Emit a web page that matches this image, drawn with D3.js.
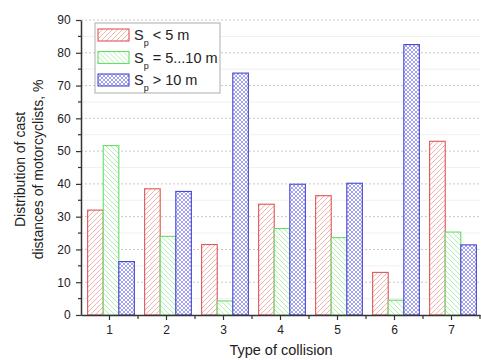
<!DOCTYPE html>
<html>
<head>
<meta charset="utf-8">
<script src="https://cdn.jsdelivr.net/npm/d3@7"></script>
<style>
  body { margin: 0; background: #fff; }
  text { font-family: "Liberation Sans", Arial, sans-serif; }
</style>
</head>
<body>
<div id="chart"></div>
<script>
// data
const categories = ['1', '2', '3', '4', '5', '6', '7'];
const seriesNames = ['lt5', 'mid', 'gt10'];
const lt5 = [32, 38.5, 21.5, 33.8, 36.4, 13, 53];
const mid = [51.7, 24, 4.3, 26.4, 23.6, 4.5, 25.3];
const gt10 = [16.3, 37.7, 73.8, 39.9, 40.2, 82.5, 21.4];
const yTicks = [0, 10, 20, 30, 40, 50, 60, 70, 80, 90];

const width = 481;
const height = 360;
const margin = { top: 20, right: 1, bottom: 45, left: 81 };

const svg = d3.select('#chart')
  .append('svg')
  .attr('width', width)
  .attr('height', height);

const defs = svg.append('defs');
// hatches
const hatch = (id, stroke, bg, dir) => {
  const p = defs.append('pattern')
    .attr('id', id)
    .attr('patternUnits', 'userSpaceOnUse')
    .attr('width', 5)
    .attr('height', 5);
  p.append('rect').attr('width', 5).attr('height', 5).attr('fill', bg);
  if (dir === 'fwd') {
    p.append('path').attr('d', 'M-1,1 L1,-1 M0,5 L5,0 M4,6 L6,4')
      .attr('stroke', stroke).attr('stroke-width', 0.8);
  } else {
    p.append('path').attr('d', 'M-1,4 L1,6 M0,0 L5,5 M4,-1 L6,1')
      .attr('stroke', stroke).attr('stroke-width', 0.8);
  }
};
hatch('pRed', '#f0a0a0', '#fff', 'fwd');
hatch('pGreen', '#a0eca0', '#fff', 'back');
// blue crosshatch, a bit denser
const pb = defs.append('pattern')
  .attr('id', 'pBlue')
  .attr('patternUnits', 'userSpaceOnUse')
  .attr('width', 4)
  .attr('height', 4);
pb.append('rect').attr('width', 4).attr('height', 4).attr('fill', '#fff');
pb.append('path').attr('d', 'M-1,1 L1,-1 M0,4 L4,0 M3,5 L5,3 M-1,3 L1,5 M0,0 L4,4 M3,-1 L5,1')
  .attr('stroke', '#8c8cec').attr('stroke-width', 0.8);

const fills = { lt5: 'url(#pRed)', mid: 'url(#pGreen)', gt10: 'url(#pBlue)' };
const strokes = { lt5: '#e05555', mid: '#66dd66', gt10: '#4848d0' };
const values = { lt5, mid, gt10 };

const x = d3.scaleBand()
  .domain(categories)
  .range([margin.left, width - margin.right])
  .paddingInner(0)
  .paddingOuter(0);

const xSub = d3.scaleBand()
  .domain(seriesNames)
  .range([x.bandwidth() * 0.09 + 1.5, x.bandwidth() * 0.91 + 1.5]);

const y = d3.scaleLinear()
  .domain([0, 90])
  .range([height - margin.bottom, margin.top]);

// grid
const minor = d3.range(5, 90, 10);
svg.append('g')
  .selectAll('line')
  .data(minor)
  .enter()
  .append('line')
  .attr('x1', margin.left)
  .attr('x2', width - margin.right)
  .attr('y1', (d) => y(d))
  .attr('y2', (d) => y(d))
  .attr('stroke', '#f0f0f0')
  .attr('stroke-width', 1);
svg.append('g')
  .selectAll('line')
  .data(yTicks.slice(1))
  .enter()
  .append('line')
  .attr('x1', margin.left)
  .attr('x2', width - margin.right)
  .attr('y1', (d) => y(d))
  .attr('y2', (d) => y(d))
  .attr('stroke', '#c8c8c8')
  .attr('stroke-dasharray', '2,2')
  .attr('stroke-width', 1);

// bars
const rows = [];
categories.forEach((c, i) => {
  seriesNames.forEach((s) => {
    rows.push({ c, s, v: values[s][i] });
  });
});
svg.append('g')
  .selectAll('rect')
  .data(rows)
  .enter()
  .append('rect')
  .attr('x', (d) => x(d.c) + xSub(d.s))
  .attr('y', (d) => y(d.v))
  .attr('width', xSub.bandwidth())
  .attr('height', (d) => y(0) - y(d.v))
  .attr('fill', (d) => fills[d.s])
  .attr('stroke', (d) => strokes[d.s])
  .attr('stroke-width', 1.1);

// axes
const xAxis = svg.append('g')
  .attr('transform', `translate(0,${y(0)})`)
  .call(d3.axisBottom(x).tickSize(5).tickSizeOuter(0));
xAxis.select('.domain').attr('stroke', '#333').attr('stroke-width', 1.5);
xAxis.selectAll('.tick line').attr('stroke', '#333').attr('stroke-width', 1.2);
xAxis.selectAll('.tick text').attr('font-size', 12).attr('fill', '#222').attr('dy', '0.9em');
// minor x ticks at group edges
xAxis.append('g')
  .selectAll('line')
  .data(categories)
  .enter()
  .append('line')
  .attr('x1', (d) => x(d) + x.bandwidth())
  .attr('x2', (d) => x(d) + x.bandwidth())
  .attr('y1', 0)
  .attr('y2', 4)
  .attr('stroke', '#333')
  .attr('stroke-width', 1.2);

const yAxis = svg.append('g')
  .attr('transform', `translate(${margin.left},0)`)
  .call(d3.axisLeft(y).tickValues(yTicks).tickSize(5).tickSizeOuter(0));
yAxis.select('.domain').attr('stroke', '#333').attr('stroke-width', 1.5);
yAxis.selectAll('.tick line').attr('stroke', '#333').attr('stroke-width', 1.2);
yAxis.selectAll('.tick text').attr('font-size', 12).attr('fill', '#222').attr('dx', '-0.2em');
yAxis.append('g')
  .selectAll('line')
  .data(minor)
  .enter()
  .append('line')
  .attr('x1', 0)
  .attr('x2', -3)
  .attr('y1', (d) => y(d))
  .attr('y2', (d) => y(d))
  .attr('stroke', '#333')
  .attr('stroke-width', 1.2);

// axis titles
svg.append('text')
  .attr('x', (margin.left + width) / 2)
  .attr('y', 355)
  .attr('text-anchor', 'middle')
  .attr('font-size', 14.5)
  .attr('fill', '#222')
  .text('Type of collision');

const yt = svg.append('text')
  .attr('transform', `translate(25,${y(45) + 2}) rotate(-90)`)
  .attr('text-anchor', 'middle')
  .attr('font-size', 14)
  .attr('fill', '#222');
yt.append('tspan').attr('x', 0).attr('dy', 0).text('Distribution of cast');
yt.append('tspan').attr('x', 0).attr('dy', 18).text('distances of motorcyclists, %');

// legend
const legend = svg.append('g').attr('transform', 'translate(95,23)');
legend.append('rect')
  .attr('width', 125)
  .attr('height', 70)
  .attr('fill', '#fff')
  .attr('stroke', '#bbb')
  .attr('stroke-width', 1.2);
const legendRel = ['< 5 m', '= 5...10 m', '> 10 m'];
seriesNames.forEach((s, i) => {
  const g = legend.append('g').attr('transform', `translate(3,${6 + i * 22.5})`);
  g.append('rect')
    .attr('width', 31)
    .attr('height', 12)
    .attr('fill', fills[s])
    .attr('stroke', strokes[s])
    .attr('stroke-width', 1.1);
  const t = g.append('text')
    .attr('x', 36)
    .attr('y', 11)
    .attr('font-size', 14.5)
    .attr('fill', '#222');
  t.append('tspan').text('S');
  t.append('tspan').attr('font-size', 9).attr('dy', 6).text('p');
  t.append('tspan').attr('dy', -6).text(` ${legendRel[i]}`);
});
</script>
</body>
</html>
